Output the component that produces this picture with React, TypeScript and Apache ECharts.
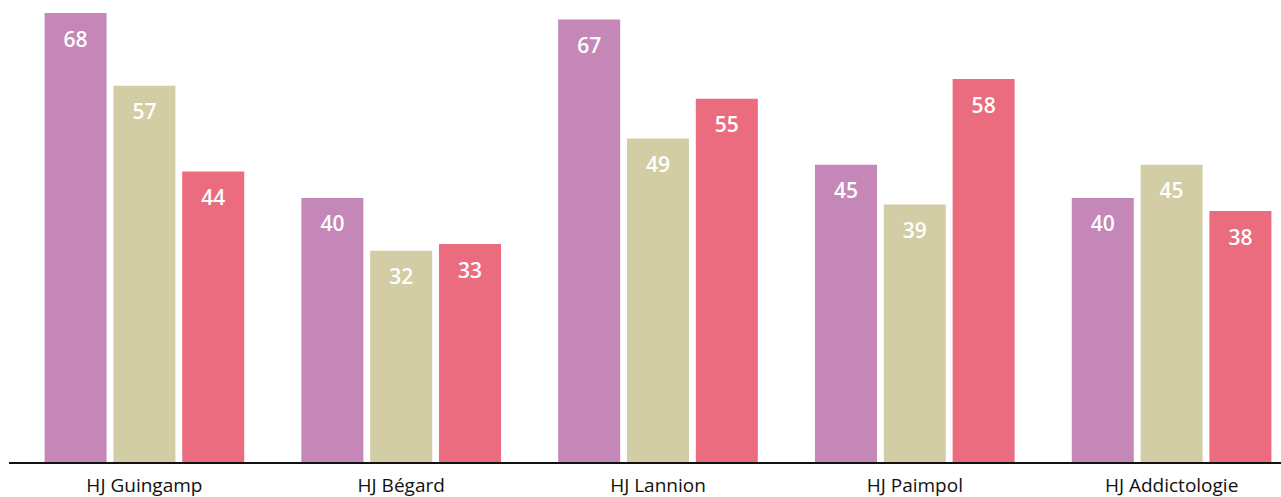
import React, { useEffect, useRef } from "react";
import * as echarts from "echarts";

const categories = ["HJ Guingamp", "HJ Bégard", "HJ Lannion", "HJ Paimpol", "HJ Addictologie"];
const seriesNames = ["Série 1", "Série 2", "Série 3"];
const valuesPurple = [68, 40, 67, 45, 40];
const valuesBeige = [57, 32, 49, 39, 45];
const valuesPink = [44, 33, 55, 58, 38];
const colors = ["#C487B8", "#D2CDA5", "#EC6C7F"];

export default function App() {
  const ref = useRef<HTMLDivElement>(null);
  useEffect(() => {
    if (!ref.current) return;
    const chart = echarts.init(ref.current, null, { renderer: "svg" });
    const data = [valuesPurple, valuesBeige, valuesPink];
    chart.setOption({
      animation: false,
      grid: { left: 16, right: 10, top: 13, bottom: 35, containLabel: false },
      xAxis: {
        type: "category",
        data: categories,
        axisLine: { show: false },
        axisTick: { show: false },
        axisLabel: {
          color: "#111",
          fontSize: 19,
          lineHeight: 20,
          fontFamily: "'Open Sans', sans-serif",
          margin: 13,
        },
      },
      yAxis: {
        type: "value",
        min: 0,
        max: 68,
        show: false,
        splitLine: { show: false },
      },
      graphic: [
        {
          type: "line",
          shape: { x1: 9, y1: 463, x2: 1310, y2: 463 },
          style: { stroke: "#111", lineWidth: 2 },
          z: 100,
        },
      ],
      series: data.map((d, i) => ({
        name: seriesNames[i],
        type: "bar",
        data: d,
        barWidth: 62,
        barGap: "11%",
        itemStyle: { color: colors[i] },
        label: {
          show: true,
          position: "insideTop",
          distance: 15,
          color: "#fff",
          fontSize: 21,
          fontWeight: 600,
          fontFamily: "'Open Sans', sans-serif",
        },
      })),
    });
    return () => chart.dispose();
  }, []);
  return (
    <div style={{ position: "fixed", left: 0, top: 0, width: 1281, height: 497, overflow: "hidden", background: "#fff" }}>
      <div ref={ref} style={{ width: 1310, height: 497 }} />
    </div>
  );
}
